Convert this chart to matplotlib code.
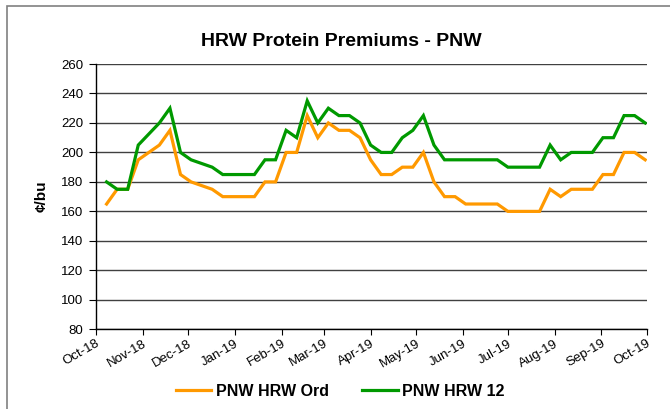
import datetime as dt

import matplotlib
matplotlib.use("Agg")
import matplotlib.pyplot as plt
import matplotlib.dates as mdates
from matplotlib.patches import Rectangle

# weekly premiums, cents/bu
start = dt.date(2018, 10, 8)
hrw_ord = [165, 175, 175, 195, 200, 205, 215, 185, 180, 177.5, 175, 170, 170,
           170, 170, 180, 180, 200, 200, 225, 210, 220, 215, 215, 210,
           195, 185, 185, 190, 190, 200, 180, 170, 170, 165, 165, 165, 165,
           160, 160, 160, 160, 175, 170, 175, 175, 175, 185, 185, 200, 200, 195]
hrw_12 = [180, 175, 175, 205, 212.5, 220, 230, 200, 195, 192.5, 190, 185, 185,
          185, 185, 195, 195, 215, 210, 235, 220, 230, 225, 225, 220,
          205, 200, 200, 210, 215, 225, 205, 195, 195, 195, 195, 195, 195,
          190, 190, 190, 190, 205, 195, 200, 200, 200, 210, 210, 225, 225, 220]
dates = [start + dt.timedelta(weeks=i) for i in range(len(hrw_ord))]

series_names = ["PNW HRW Ord", "PNW HRW 12"]
colors = ["#FF9900", "#009900"]

plt.rcParams["font.family"] = ["Liberation Sans", "DejaVu Sans"]

fig = plt.figure(figsize=(6.7, 4.09), dpi=100)
ax = fig.add_axes([0.1433, 0.1949, 0.8219, 0.6486])

# outer chart frame
fig.patches.append(Rectangle((0.0104, -0.05), 1.2, 1.0353, transform=fig.transFigure,
                             fill=False, edgecolor="#808080", linewidth=1.2))

for vals, name, c in zip([hrw_ord, hrw_12], series_names, colors):
    ax.plot(dates, vals, color=c, linewidth=2.3, label=name, solid_joinstyle="miter")

ax.set_ylim(80, 260)
ax.set_yticks(range(80, 261, 20))
ax.set_xlim(dt.date(2018, 10, 1), dt.date(2019, 10, 1))
ax.xaxis.set_major_locator(mdates.MonthLocator())
ax.xaxis.set_major_formatter(mdates.DateFormatter("%b-%y"))

ax.yaxis.grid(True, color="#404040", linewidth=1.0)
ax.set_axisbelow(True)
for s in ["top", "right"]:
    ax.spines[s].set_visible(False)
for s in ["left", "bottom"]:
    ax.spines[s].set_color("black")
    ax.spines[s].set_linewidth(1.0)

ax.tick_params(axis="y", direction="out", length=5, labelsize=9.5, pad=4)
ax.tick_params(axis="x", direction="out", length=4, labelsize=9.5, pad=2)
plt.setp(ax.get_xticklabels(), rotation=30, ha="right", rotation_mode="anchor")

ax.set_ylabel("¢/bu", fontsize=11, fontweight="bold", labelpad=9)
fig.text(0.51, 0.887, "HRW Protein Premiums - PNW", ha="center", va="baseline",
         fontsize=14, fontweight="bold")

fig.legend(loc="lower center", bbox_to_anchor=(0.508, -0.01), ncol=2, frameon=False,
           prop={"weight": "bold", "size": 11.5}, handlelength=2.2, columnspacing=2.1,
           handletextpad=0.3)

fig.savefig("out.png", dpi=100)
